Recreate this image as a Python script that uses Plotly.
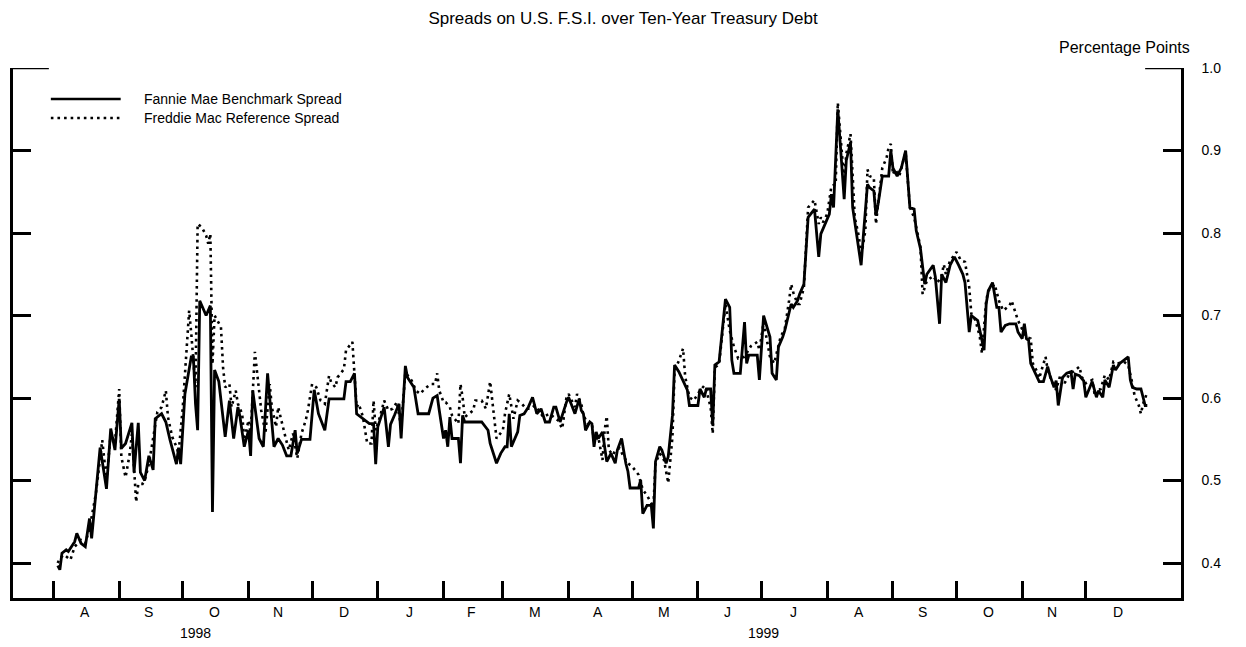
import plotly.graph_objects as go

FONT = "Liberation Sans, Arial, Helvetica, sans-serif"

# ---------------- data ----------------
fannie_dates = [
    "1998-08-03", "1998-08-04", "1998-08-05", "1998-08-07", "1998-08-08", "1998-08-11", "1998-08-12", "1998-08-14",
    "1998-08-16", "1998-08-18", "1998-08-19", "1998-08-21", "1998-08-23", "1998-08-26", "1998-08-28", "1998-08-30",
    "1998-09-01", "1998-09-02", "1998-09-04", "1998-09-07", "1998-09-08", "1998-09-10", "1998-09-11", "1998-09-13",
    "1998-09-15", "1998-09-17", "1998-09-18", "1998-09-21", "1998-09-23", "1998-09-25", "1998-09-28", "1998-09-29",
    "1998-09-30", "1998-10-02", "1998-10-05", "1998-10-06", "1998-10-07", "1998-10-08", "1998-10-09", "1998-10-12",
    "1998-10-14", "1998-10-15", "1998-10-16", "1998-10-18", "1998-10-21", "1998-10-23", "1998-10-25", "1998-10-27",
    "1998-10-28", "1998-10-30", "1998-11-01", "1998-11-02", "1998-11-03", "1998-11-06", "1998-11-08", "1998-11-10",
    "1998-11-11", "1998-11-13", "1998-11-15", "1998-11-17", "1998-11-19", "1998-11-21", "1998-11-23", "1998-11-24",
    "1998-11-26", "1998-11-30", "1998-12-02", "1998-12-04", "1998-12-07", "1998-12-09", "1998-12-16", "1998-12-17",
    "1998-12-19", "1998-12-21", "1998-12-22", "1998-12-24", "1998-12-28", "1998-12-30", "1998-12-31",
    "1999-01-01", "1999-01-04", "1999-01-06", "1999-01-07", "1999-01-09", "1999-01-11", "1999-01-12", "1999-01-14",
    "1999-01-15", "1999-01-18", "1999-01-20", "1999-01-22", "1999-01-25", "1999-01-27", "1999-01-29", "1999-01-30",
    "1999-02-01", "1999-02-02", "1999-02-03", "1999-02-04", "1999-02-05", "1999-02-08", "1999-02-09", "1999-02-10",
    "1999-02-11", "1999-02-19", "1999-02-22", "1999-02-23", "1999-02-26", "1999-02-28", "1999-03-02", "1999-03-03",
    "1999-03-04", "1999-03-05", "1999-03-08", "1999-03-09", "1999-03-11", "1999-03-13", "1999-03-15", "1999-03-16",
    "1999-03-17", "1999-03-19", "1999-03-21", "1999-03-23", "1999-03-25", "1999-03-26", "1999-03-28", "1999-03-31",
    "1999-04-01", "1999-04-04", "1999-04-06", "1999-04-07", "1999-04-08", "1999-04-09", "1999-04-11", "1999-04-12",
    "1999-04-13", "1999-04-14", "1999-04-15", "1999-04-17", "1999-04-18", "1999-04-19", "1999-04-21", "1999-04-23",
    "1999-04-24", "1999-04-26", "1999-04-28", "1999-04-29", "1999-04-30", "1999-05-04", "1999-05-05", "1999-05-06",
    "1999-05-08", "1999-05-10", "1999-05-11", "1999-05-12", "1999-05-14", "1999-05-15", "1999-05-17", "1999-05-18",
    "1999-05-20", "1999-05-21", "1999-05-23", "1999-05-25", "1999-05-27", "1999-05-28", "1999-06-01", "1999-06-02",
    "1999-06-04", "1999-06-05", "1999-06-07", "1999-06-08", "1999-06-09", "1999-06-11", "1999-06-14", "1999-06-16",
    "1999-06-17", "1999-06-18", "1999-06-21", "1999-06-23", "1999-06-24", "1999-06-25", "1999-06-29", "1999-06-30",
    "1999-07-02", "1999-07-05", "1999-07-06", "1999-07-08", "1999-07-09", "1999-07-11", "1999-07-12", "1999-07-15",
    "1999-07-16", "1999-07-18", "1999-07-19", "1999-07-21", "1999-07-23", "1999-07-26", "1999-07-28", "1999-07-29",
    "1999-07-30", "1999-08-02", "1999-08-03", "1999-08-04", "1999-08-06", "1999-08-09", "1999-08-10", "1999-08-12",
    "1999-08-13", "1999-08-17", "1999-08-18", "1999-08-20", "1999-08-21", "1999-08-23", "1999-08-24", "1999-08-25",
    "1999-08-27", "1999-08-30", "1999-08-31", "1999-09-01", "1999-09-03", "1999-09-05", "1999-09-07", "1999-09-09",
    "1999-09-11", "1999-09-12", "1999-09-14", "1999-09-16", "1999-09-17", "1999-09-20", "1999-09-21", "1999-09-23",
    "1999-09-24", "1999-09-26", "1999-09-28", "1999-09-30", "1999-10-02", "1999-10-04", "1999-10-05", "1999-10-07",
    "1999-10-08", "1999-10-11", "1999-10-12", "1999-10-14", "1999-10-15", "1999-10-16", "1999-10-18", "1999-10-20",
    "1999-10-21", "1999-10-22", "1999-10-24", "1999-10-26", "1999-10-29", "1999-10-30", "1999-11-01", "1999-11-02",
    "1999-11-03", "1999-11-04", "1999-11-05", "1999-11-07", "1999-11-09", "1999-11-11", "1999-11-13", "1999-11-14",
    "1999-11-16", "1999-11-17", "1999-11-18", "1999-11-20", "1999-11-22", "1999-11-24", "1999-11-25", "1999-11-26",
    "1999-11-28", "1999-11-30", "1999-12-01", "1999-12-04", "1999-12-06", "1999-12-07", "1999-12-09", "1999-12-10",
    "1999-12-12", "1999-12-14", "1999-12-15", "1999-12-17", "1999-12-19", "1999-12-21", "1999-12-22", "1999-12-23",
    "1999-12-25", "1999-12-27", "1999-12-28", "1999-12-29", "1999-12-30",
]
fannie_values = [
    0.397, 0.392, 0.412, 0.416, 0.414, 0.426, 0.436, 0.424,
    0.420, 0.454, 0.430, 0.484, 0.540, 0.490, 0.563, 0.537,
    0.599, 0.539, 0.545, 0.570, 0.510, 0.570, 0.510, 0.500,
    0.530, 0.513, 0.575, 0.581, 0.571, 0.549, 0.520, 0.540,
    0.520, 0.605, 0.650, 0.650, 0.593, 0.561, 0.718, 0.700,
    0.712, 0.462, 0.634, 0.620, 0.553, 0.597, 0.551, 0.589,
    0.577, 0.541, 0.561, 0.530, 0.609, 0.551, 0.541, 0.630,
    0.597, 0.541, 0.551, 0.543, 0.530, 0.530, 0.561, 0.533,
    0.550, 0.550, 0.610, 0.581, 0.561, 0.599, 0.599, 0.620,
    0.620, 0.630, 0.581, 0.577, 0.569, 0.569, 0.520,
    0.565, 0.589, 0.541, 0.568, 0.580, 0.593, 0.551, 0.639,
    0.625, 0.613, 0.581, 0.581, 0.581, 0.600, 0.603, 0.585,
    0.551, 0.561, 0.541, 0.577, 0.551, 0.551, 0.521, 0.579,
    0.571, 0.571, 0.561, 0.545, 0.521, 0.533, 0.541, 0.541,
    0.581, 0.541, 0.559, 0.579, 0.581, 0.589, 0.601, 0.591,
    0.581, 0.587, 0.571, 0.571, 0.589, 0.589, 0.571, 0.595,
    0.601, 0.581, 0.599, 0.585, 0.581, 0.561, 0.571, 0.569,
    0.541, 0.559, 0.551, 0.559, 0.543, 0.523, 0.533, 0.521,
    0.537, 0.551, 0.521, 0.511, 0.491, 0.491, 0.501, 0.460,
    0.470, 0.470, 0.442, 0.523, 0.541, 0.537, 0.521, 0.529,
    0.579, 0.640, 0.632, 0.620, 0.610, 0.591, 0.591, 0.611,
    0.601, 0.611, 0.611, 0.567, 0.640, 0.644, 0.720, 0.710,
    0.646, 0.630, 0.630, 0.692, 0.642, 0.652, 0.652, 0.622,
    0.700, 0.674, 0.630, 0.622, 0.662, 0.674, 0.682, 0.714,
    0.710, 0.718, 0.726, 0.738, 0.819, 0.829, 0.771, 0.799,
    0.805, 0.823, 0.847, 0.831, 0.950, 0.841, 0.888, 0.910,
    0.831, 0.761, 0.795, 0.859, 0.855, 0.851, 0.821, 0.835,
    0.869, 0.869, 0.900, 0.879, 0.869, 0.879, 0.900, 0.831,
    0.829, 0.803, 0.781, 0.738, 0.750, 0.761, 0.747, 0.690,
    0.750, 0.740, 0.761, 0.771, 0.761, 0.750, 0.740, 0.680,
    0.700, 0.694, 0.682, 0.658, 0.714, 0.730, 0.740, 0.710,
    0.710, 0.680, 0.688, 0.690, 0.690, 0.680, 0.672, 0.690,
    0.672, 0.670, 0.642, 0.630, 0.620, 0.620, 0.638, 0.628,
    0.613, 0.621, 0.591, 0.625, 0.630, 0.632, 0.611, 0.629,
    0.627, 0.621, 0.601, 0.620, 0.601, 0.609, 0.601, 0.622,
    0.613, 0.640, 0.634, 0.642, 0.646, 0.650, 0.622, 0.613,
    0.611, 0.611, 0.601, 0.591, 0.591,
]

freddie_dates = [
    "1998-08-03", "1998-08-04", "1998-08-06", "1998-08-09", "1998-08-11", "1998-08-14", "1998-08-16", "1998-08-18",
    "1998-08-21", "1998-08-24", "1998-08-26", "1998-08-28", "1998-08-30", "1998-09-01", "1998-09-02", "1998-09-04",
    "1998-09-06", "1998-09-07", "1998-09-09", "1998-09-10", "1998-09-12", "1998-09-13", "1998-09-15", "1998-09-17",
    "1998-09-19", "1998-09-21", "1998-09-23", "1998-09-24", "1998-09-26", "1998-09-28", "1998-09-29", "1998-10-01",
    "1998-10-02", "1998-10-04", "1998-10-05", "1998-10-07", "1998-10-08", "1998-10-10", "1998-10-12", "1998-10-13",
    "1998-10-14", "1998-10-15", "1998-10-16", "1998-10-19", "1998-10-20", "1998-10-21", "1998-10-23", "1998-10-24",
    "1998-10-26", "1998-10-27", "1998-10-29", "1998-10-30", "1998-11-01", "1998-11-02", "1998-11-04", "1998-11-06",
    "1998-11-07", "1998-11-09", "1998-11-11", "1998-11-12", "1998-11-14", "1998-11-15", "1998-11-16", "1998-11-18",
    "1998-11-20", "1998-11-22", "1998-11-24", "1998-11-26", "1998-11-28", "1998-11-29", "1998-12-01", "1998-12-03",
    "1998-12-05", "1998-12-07", "1998-12-09", "1998-12-10", "1998-12-12", "1998-12-13", "1998-12-16", "1998-12-17",
    "1998-12-20", "1998-12-22", "1998-12-23", "1998-12-25", "1998-12-27", "1998-12-29", "1998-12-30", "1998-12-31",
    "1999-01-02", "1999-01-04", "1999-01-06", "1999-01-08", "1999-01-10", "1999-01-12", "1999-01-14", "1999-01-17",
    "1999-01-19", "1999-01-21", "1999-01-23", "1999-01-26", "1999-01-28", "1999-01-29", "1999-01-30", "1999-02-01",
    "1999-02-02", "1999-02-04", "1999-02-05", "1999-02-08", "1999-02-09", "1999-02-10", "1999-02-11", "1999-02-15",
    "1999-02-16", "1999-02-19", "1999-02-21", "1999-02-23", "1999-02-24", "1999-02-25", "1999-02-26", "1999-03-01",
    "1999-03-02", "1999-03-04", "1999-03-05", "1999-03-06", "1999-03-08", "1999-03-10", "1999-03-12", "1999-03-14",
    "1999-03-16", "1999-03-18", "1999-03-20", "1999-03-23", "1999-03-27", "1999-03-29", "1999-03-31", "1999-04-01",
    "1999-04-04", "1999-04-05", "1999-04-07", "1999-04-08", "1999-04-10", "1999-04-12", "1999-04-13", "1999-04-15",
    "1999-04-16", "1999-04-17", "1999-04-18", "1999-04-19", "1999-04-20", "1999-04-22", "1999-04-23", "1999-04-25",
    "1999-04-27", "1999-04-29", "1999-05-01", "1999-05-04", "1999-05-06", "1999-05-08", "1999-05-11", "1999-05-12",
    "1999-05-14", "1999-05-16", "1999-05-18", "1999-05-19", "1999-05-20", "1999-05-21", "1999-05-23", "1999-05-25",
    "1999-05-26", "1999-05-28", "1999-05-30", "1999-06-02", "1999-06-04", "1999-06-05", "1999-06-07", "1999-06-08",
    "1999-06-09", "1999-06-11", "1999-06-14", "1999-06-16", "1999-06-18", "1999-06-20", "1999-06-23", "1999-06-26",
    "1999-06-29", "1999-06-30", "1999-07-02", "1999-07-05", "1999-07-07", "1999-07-10", "1999-07-12", "1999-07-14",
    "1999-07-15", "1999-07-16", "1999-07-18", "1999-07-19", "1999-07-21", "1999-07-23", "1999-07-26", "1999-07-28",
    "1999-07-29", "1999-07-30", "1999-08-01", "1999-08-03", "1999-08-05", "1999-08-06", "1999-08-09", "1999-08-10",
    "1999-08-12", "1999-08-14", "1999-08-16", "1999-08-17", "1999-08-19", "1999-08-20", "1999-08-21", "1999-08-23",
    "1999-08-24", "1999-08-25", "1999-08-27", "1999-08-29", "1999-08-30", "1999-08-31", "1999-09-01", "1999-09-02",
    "1999-09-04", "1999-09-07", "1999-09-09", "1999-09-11", "1999-09-13", "1999-09-14", "1999-09-15", "1999-09-17",
    "1999-09-20", "1999-09-22", "1999-09-24", "1999-09-25", "1999-09-26", "1999-09-28", "1999-09-30", "1999-10-01",
    "1999-10-03", "1999-10-05", "1999-10-07", "1999-10-08", "1999-10-10", "1999-10-12", "1999-10-13", "1999-10-15",
    "1999-10-16", "1999-10-19", "1999-10-21", "1999-10-23", "1999-10-25", "1999-10-26", "1999-10-27", "1999-10-28",
    "1999-10-30", "1999-11-02", "1999-11-03", "1999-11-05", "1999-11-06", "1999-11-08", "1999-11-09", "1999-11-12",
    "1999-11-13", "1999-11-15", "1999-11-17", "1999-11-19", "1999-11-21", "1999-11-23", "1999-11-26", "1999-11-28",
    "1999-11-29", "1999-12-01", "1999-12-04", "1999-12-05", "1999-12-08", "1999-12-10", "1999-12-12", "1999-12-14",
    "1999-12-16", "1999-12-19", "1999-12-21", "1999-12-22", "1999-12-23", "1999-12-24", "1999-12-26", "1999-12-27",
    "1999-12-28", "1999-12-30",
]
freddie_values = [
    0.400, 0.406, 0.410, 0.404, 0.420, 0.428, 0.424, 0.442,
    0.484, 0.549, 0.500, 0.557, 0.545, 0.611, 0.529, 0.504,
    0.533, 0.557, 0.474, 0.496, 0.496, 0.500, 0.520, 0.549,
    0.583, 0.589, 0.609, 0.577, 0.553, 0.541, 0.533, 0.589,
    0.629, 0.706, 0.678, 0.613, 0.811, 0.807, 0.797, 0.787,
    0.799, 0.641, 0.700, 0.686, 0.637, 0.613, 0.617, 0.589,
    0.609, 0.593, 0.581, 0.549, 0.573, 0.557, 0.656, 0.613,
    0.585, 0.557, 0.617, 0.589, 0.565, 0.589, 0.577, 0.557,
    0.537, 0.557, 0.527, 0.557, 0.573, 0.585, 0.617, 0.613,
    0.597, 0.593, 0.627, 0.619, 0.613, 0.625, 0.635, 0.658,
    0.668, 0.589, 0.593, 0.577, 0.545, 0.545, 0.597, 0.561,
    0.577, 0.597, 0.585, 0.587, 0.595, 0.565, 0.631, 0.621,
    0.609, 0.605, 0.611, 0.617, 0.617, 0.630, 0.609, 0.595,
    0.595, 0.589, 0.579, 0.569, 0.617, 0.601, 0.577, 0.585,
    0.597, 0.597, 0.587, 0.620, 0.597, 0.573, 0.551, 0.561,
    0.581, 0.605, 0.589, 0.575, 0.597, 0.593, 0.587, 0.587,
    0.591, 0.585, 0.577, 0.581, 0.573, 0.563, 0.601, 0.605,
    0.589, 0.605, 0.593, 0.579, 0.569, 0.569, 0.547, 0.553,
    0.539, 0.525, 0.561, 0.578, 0.537, 0.531, 0.537, 0.539,
    0.529, 0.521, 0.517, 0.507, 0.489, 0.482, 0.468, 0.521,
    0.533, 0.525, 0.497, 0.521, 0.553, 0.633, 0.645, 0.660,
    0.626, 0.601, 0.597, 0.609, 0.615, 0.609, 0.589, 0.557,
    0.637, 0.641, 0.714, 0.682, 0.662, 0.648, 0.650, 0.663,
    0.668, 0.658, 0.692, 0.650, 0.642, 0.674, 0.684, 0.718,
    0.738, 0.728, 0.714, 0.714, 0.734, 0.831, 0.840, 0.811,
    0.819, 0.813, 0.823, 0.857, 0.859, 0.958, 0.863, 0.896,
    0.920, 0.819, 0.795, 0.771, 0.803, 0.877, 0.869, 0.867,
    0.811, 0.835, 0.879, 0.891, 0.904, 0.908, 0.871, 0.877,
    0.869, 0.898, 0.831, 0.819, 0.795, 0.783, 0.726, 0.742,
    0.748, 0.740, 0.748, 0.762, 0.750, 0.767, 0.773, 0.777,
    0.767, 0.765, 0.734, 0.702, 0.694, 0.674, 0.654, 0.718,
    0.730, 0.738, 0.718, 0.706, 0.710, 0.712, 0.718, 0.710,
    0.694, 0.678, 0.674, 0.672, 0.642, 0.632, 0.624, 0.650,
    0.634, 0.620, 0.610, 0.628, 0.618, 0.628, 0.634, 0.638,
    0.626, 0.618, 0.622, 0.607, 0.611, 0.628, 0.622, 0.644,
    0.642, 0.644, 0.640, 0.630, 0.617, 0.603, 0.591, 0.581,
    0.593, 0.607,
]

series_names = ["Fannie Mae Benchmark Spread", "Freddie Mac Reference Spread"]

month_starts = [
    "1998-08-01", "1998-09-01", "1998-10-01", "1998-11-01", "1998-12-01", "1999-01-01",
    "1999-02-01", "1999-03-01", "1999-04-01", "1999-05-01", "1999-06-01", "1999-07-01",
    "1999-08-01", "1999-09-01", "1999-10-01", "1999-11-01", "1999-12-01",
]
month_centers = [
    "1998-08-16", "1998-09-15", "1998-10-16", "1998-11-15", "1998-12-16", "1999-01-16",
    "1999-02-14", "1999-03-16", "1999-04-15", "1999-05-16", "1999-06-15", "1999-07-16",
    "1999-08-16", "1999-09-15", "1999-10-16", "1999-11-15", "1999-12-16",
]
month_letters = ["A", "S", "O", "N", "D", "J", "F", "M", "A", "M", "J", "J", "A", "S", "O", "N", "D"]
year_labels = ["1998", "1999"]
year_centers = ["1998-10-07", "1999-07-02"]
y_ticks = [0.4, 0.5, 0.6, 0.7, 0.8, 0.9, 1.0]

x_range = ["1998-07-12 21:36", "2000-01-14 21:36"]
y_range = [0.3577, 1.0]

# ---------------- figure ----------------
fig = go.Figure()
fig.add_trace(go.Scatter(
    x=freddie_dates, y=freddie_values, mode="lines", name=series_names[1],
    line=dict(color="black", width=2.6, dash="2.6px,4px"), showlegend=False,
))
fig.add_trace(go.Scatter(
    x=fannie_dates, y=fannie_values, mode="lines", name=series_names[0],
    line=dict(color="black", width=2.8), showlegend=False,
))

LW = 2.5
# the page body has an 8px margin, so the figure is sized/offset to compensate
fig.update_layout(
    width=1238, height=639,
    margin=dict(l=2, r=65, t=60, b=49),
    paper_bgcolor="white", plot_bgcolor="white",
    font=dict(family=FONT, size=13, color="black"),
    title=dict(
        text="Spreads on U.S. F.S.I. over Ten-Year Treasury Debt",
        x=0.4968, xref="container", xanchor="center",
        y=0.984, yref="container", yanchor="middle",
        font=dict(family=FONT, size=17, color="black"),
    ),
    xaxis=dict(
        type="date", range=x_range, tickmode="array", tickvals=month_starts,
        showticklabels=False, ticks="inside", ticklen=17, tickwidth=LW, tickcolor="black",
        showline=True, linecolor="black", linewidth=LW, showgrid=False, zeroline=False,
    ),
    yaxis=dict(
        range=y_range, side="right", tickmode="array", tickvals=y_ticks,
        tickformat=".1f", ticks="inside", ticklen=18, tickwidth=LW, tickcolor="black",
        showline=True, linecolor="black", linewidth=LW, mirror="ticks",
        showgrid=False, zeroline=False,
        tickfont=dict(family=FONT, size=14, color="black"), ticklabelstandoff=15,
    ),
)

# longer end ticks at the top value on both sides
top = y_ticks[-1]
for x0, x1 in [(0.0, 0.0307), (0.9693, 1.0)]:
    fig.add_shape(type="line", xref="paper", yref="y", x0=x0, x1=x1, y0=top, y1=top,
                  line=dict(color="black", width=LW))

# unit label
fig.add_annotation(text="Percentage Points", xref="paper", yref="paper", x=1.0, y=1.0396,
                   xanchor="right", yanchor="middle", xshift=11, showarrow=False,
                   font=dict(family=FONT, size=16, color="black"))

# month letters, centred in each month
for lab, pos in zip(month_letters, month_centers):
    fig.add_annotation(text=lab, xref="x", yref="paper", x=pos, y=-0.0264,
                       xanchor="center", yanchor="middle", showarrow=False,
                       font=dict(family=FONT, size=14, color="black"))

# year labels
for lab, pos in zip(year_labels, year_centers):
    fig.add_annotation(text=lab, xref="x", yref="paper", x=pos, y=-0.066,
                       xanchor="center", yanchor="middle", showarrow=False,
                       font=dict(family=FONT, size=14, color="black"))

# manual legend
legend_rows = [(0.9415, "solid"), (0.9057, "2.6px,4px")]
for (ly, dash), name in zip(legend_rows, series_names):
    fig.add_shape(type="line", xref="paper", yref="paper", x0=0.0324, x1=0.0922, y0=ly, y1=ly,
                  line=dict(color="black", width=2.6, dash=dash))
    fig.add_annotation(text=name, xref="paper", yref="paper", x=0.1102, y=ly,
                       xanchor="left", yanchor="middle", showarrow=False,
                       font=dict(family=FONT, size=14, color="black"))

fig.write_html("out.html")
